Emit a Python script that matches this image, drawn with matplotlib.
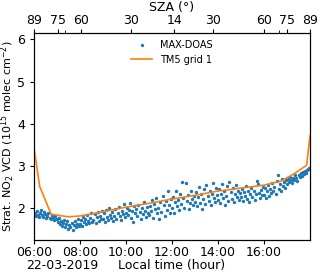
import numpy as np
import matplotlib
matplotlib.use("Agg")
import matplotlib.pyplot as plt

# MAX-DOAS stratospheric NO2 VCD, one list per local hour (~22 scans/hour)
doas_06 = [1.86, 1.90, 1.82, 1.93, 1.85, 1.79, 1.88, 1.97, 1.84, 1.80, 1.91, 1.86, 1.77, 1.83, 1.89, 1.78, 1.74, 1.85, 1.80, 1.72, 1.82, 1.76]
doas_07 = [1.74, 1.68, 1.78, 1.63, 1.71, 1.58, 1.66, 1.72, 1.55, 1.62, 1.69, 1.52, 1.60, 1.57, 1.65, 1.50, 1.61, 1.70, 1.56, 1.63, 1.74, 1.59]
doas_08 = [1.64, 1.72, 1.58, 1.80, 1.67, 1.75, 1.62, 1.84, 1.70, 1.66, 1.78, 1.90, 1.68, 1.73, 1.86, 1.65, 1.79, 1.92, 1.71, 1.83, 1.76, 1.94]
doas_09 = [1.74, 1.88, 1.68, 1.95, 1.80, 1.72, 2.00, 1.85, 1.77, 1.92, 1.70, 1.83, 1.98, 1.76, 1.89, 2.04, 1.81, 1.73, 1.94, 1.86, 2.10, 1.79]
doas_10 = [1.90, 2.02, 1.84, 1.96, 2.12, 1.78, 1.93, 1.67, 2.05, 1.88, 1.98, 1.82, 2.08, 1.91, 1.76, 2.00, 1.86, 2.14, 1.94, 1.80, 2.03, 1.89]
doas_11 = [1.85, 2.05, 1.94, 2.20, 1.78, 2.10, 1.99, 2.25, 1.88, 2.02, 1.74, 2.15, 1.92, 2.30, 2.07, 1.83, 2.18, 1.97, 2.40, 2.09, 1.90, 2.22]
doas_12 = [2.00, 2.28, 1.90, 2.15, 2.42, 2.05, 2.20, 1.95, 2.35, 2.10, 2.62, 2.25, 2.02, 2.60, 2.18, 2.32, 1.98, 2.12, 2.40, 2.22, 2.08, 2.30]
doas_13 = [2.15, 2.38, 2.05, 2.28, 2.50, 2.12, 2.33, 1.98, 2.22, 2.45, 2.10, 2.55, 2.30, 2.18, 2.40, 2.08, 2.35, 2.60, 2.25, 2.14, 2.48, 2.32]
doas_14 = [2.20, 2.45, 2.12, 2.35, 2.58, 2.25, 2.40, 2.08, 2.30, 2.52, 2.18, 2.62, 2.38, 2.22, 2.48, 2.15, 2.33, 2.55, 2.28, 2.42, 2.19, 2.36]
doas_15 = [2.26, 2.45, 2.18, 2.38, 2.30, 2.52, 2.22, 2.40, 2.15, 2.35, 2.48, 2.28, 2.42, 2.20, 2.33, 2.65, 2.58, 2.37, 2.25, 2.44, 2.31, 2.50]
doas_16 = [2.32, 2.48, 2.25, 2.40, 2.55, 2.30, 2.45, 2.36, 2.60, 2.42, 2.50, 2.34, 2.65, 2.80, 2.47, 2.58, 2.40, 2.70, 2.53, 2.62, 2.48, 2.68]
doas_17 = [2.58, 2.70, 2.62, 2.75, 2.66, 2.60, 2.72, 2.68, 2.78, 2.71, 2.65, 2.80, 2.74, 2.83, 2.77, 2.86, 2.81, 2.88, 2.84, 2.91, 2.93, 2.96]
doas_hours = [6, 7, 8, 9, 10, 11, 12, 13, 14, 15, 16, 17]
doas_lists = [doas_06, doas_07, doas_08, doas_09, doas_10, doas_11,
              doas_12, doas_13, doas_14, doas_15, doas_16, doas_17]

# TM5 grid 1 model
tm5_time = [6.0, 6.25, 6.75, 7.5, 8.0, 9.0, 10.0, 11.0, 12.0, 13.0, 14.0, 15.0, 16.0, 16.75, 17.25, 17.85, 18.0]
tm5_vcd = [3.45, 2.52, 1.86, 1.80, 1.82, 1.92, 2.03, 2.12, 2.22, 2.31, 2.41, 2.48, 2.55, 2.65, 2.80, 3.02, 3.73]

# solar zenith angle on the top axis
sza_pos = [6.0, 7.04, 8.04, 10.2, 12.09, 13.78, 16.0, 17.0, 18.0]
sza_labels = ["89", "75", "60", "30", "14", "30", "60", "75", "89"]
sza_minor = [7.35, 16.65]

time_ticks = [6, 8, 10, 12, 14, 16]
time_labels = ["06:00", "08:00", "10:00", "12:00", "14:00", "16:00"]

# scan times: regular sampling inside each hour
t_doas, v_doas = [], []
for h, vals in zip(doas_hours, doas_lists):
    t_doas += list(h + np.arange(len(vals)) * (0.95 / (len(vals) - 1)))
    v_doas += vals

fig = plt.figure(figsize=(3.2, 2.75), dpi=100)
ax = fig.add_axes([0.106, 0.127, 0.863, 0.753])

ax.scatter(t_doas, v_doas, s=6, color="C0", linewidths=0, label="MAX-DOAS", zorder=2)
ax.plot(tm5_time, tm5_vcd, color="C1", lw=1.2, label="TM5 grid 1", zorder=3)

ax.set_xlim(6, 18)
ax.set_ylim(1.25, 6.15)
ax.set_yticks([2, 3, 4, 5, 6])
ax.set_xticks(time_ticks)
ax.set_xticklabels(time_labels)
ax.tick_params(labelsize=9, length=3)
ax.tick_params(axis="x", pad=1.5)
ax.set_xlabel("Local time (hour)", fontsize=9, labelpad=0)
ax.set_ylabel("Strat. NO$_2$ VCD (10$^{15}$ molec cm$^{-2}$)", fontsize=8.0)
ax.yaxis.set_label_coords(-0.063, 0.5)
ax.text(-0.03, -0.125, "22-03-2019", transform=ax.transAxes, fontsize=9,
        ha="left", va="center")

ax.legend(loc="upper center", frameon=False, fontsize=7, handlelength=2.2,
          markerscale=1.0, borderaxespad=0.3)

top = ax.twiny()
top.set_xlim(ax.get_xlim())
top.set_xticks(sza_pos)
top.set_xticklabels(sza_labels)
top.set_xticks(sza_minor, minor=True)
top.tick_params(labelsize=9, length=3, pad=1.5)
top.tick_params(which="minor", length=2)
top.set_xlabel("SZA (°)", fontsize=9, labelpad=2)

fig.savefig("out.png", dpi=100)
